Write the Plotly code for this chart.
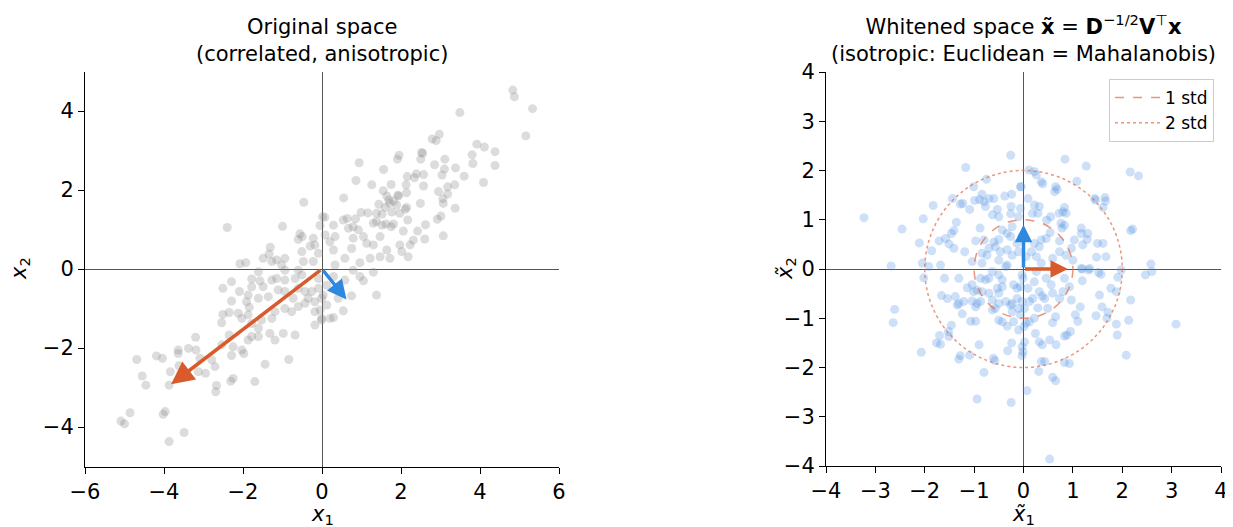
import plotly.graph_objects as go

# ---------------- data ----------------
orig_x = [4.83, 4.87, 5.33, 5.16, 3.49, 2.97, 2.89, 2.79, 3.92, 4.11, 4.38, 3.80, 3.82, 4.38, 4.09, 3.60, 3.38, 3.36, 3.37,
          3.11, 3.10, 2.85, 3.04, 3.18, 2.95, 3.18, 3.07, 3.06, 3.01, 2.92, 3.07, 2.62, 2.42, 2.60, 2.49, 2.57, 2.57, 2.39,
          2.34, 2.16, 2.13, 2.14, 2.52, 2.55, 2.50, 1.95, 1.91, 0.94, 1.56, 0.86, 1.26, 1.75, 1.55, 0.55, 1.64, 1.92, 1.69,
          1.81, 1.94, 2.14, 2.11, 2.17, 1.44, 1.60, 1.71, 1.77, 1.89, 1.97, 1.52, 1.38, 1.16, 0.99, 0.85, 0.64, 0.54, 0.29,
          0.07, 1.30, 1.38, 1.52, 1.62, 1.75, 1.81, 2.06, 0.67, 0.79, 0.92, 1.05, 0.79, 1.13, 1.30, 1.47, 1.64, 1.97, 2.23,
          2.31, 2.02, 1.72, 1.47, 1.22, 0.96, 0.75, 0.58, 0.33, 0.29, 0.20, 0.08, 0.33, 2.18,
          -0.46, -2.40, -1.00, -0.56, -0.50, -0.60, -0.22, -0.18, -0.30, -0.05, 0.01, -1.31, -1.34, -1.49, -1.27, -1.15,
          -0.94, -0.51, -0.47, -0.22, -0.09, -2.08, -1.93, -1.02,
          -4.69, -4.19, -4.04, -4.55, -4.46, -4.86, -5.09, -5.00, -3.97, -4.02, -3.49, -3.87, -3.87, -3.84, -3.62, -3.64,
          -3.64, -3.38, -3.20, -3.19, -3.09, -3.13, -2.95, -2.79, -2.71, -2.67, -2.69, -2.31, -2.25, -1.70, -1.44, -0.84,
          -2.29, -2.25, -2.03, -1.98, -2.54, -2.35, -2.54, -2.51, -2.35, -2.12, -2.03, -1.87, -1.84, -1.91, -2.29, -2.51,
          -2.29, -2.09, -1.78, -1.57, -1.49, -1.27, -1.15, -0.94, -0.68, -0.51, -0.60, -0.43, -0.26, -0.09, -0.35, -0.18,
          -0.43, -0.60, -0.77, -0.94, -1.19, -1.27, -1.53, -1.78, -1.61, -1.78, -1.87, -1.61, -1.32, -1.19, -0.98, -0.68,
          -0.18, -0.01, -0.05, -0.18, -0.73, -0.94, -1.11, -1.36, -1.61, -1.87, -1.78, -1.61, -0.94, -0.60, -0.09, -0.01,
          0.75, 1.38, 0.54, 0.29, 0.20, -0.01, 0.12, 0.41, 0.58, 1.05, 1.30, 0.96, 0.79, 0.29, 0.12, 0.03]
orig_y = [4.53, 4.36, 4.06, 3.37, 3.96, 3.41, 3.25, 3.29, 3.16, 3.09, 2.97, 2.89, 2.67, 2.62, 2.19, 2.35, 2.56, 2.13, 1.54,
          2.78, 2.53, 2.64, 2.38, 2.08, 1.96, 1.90, 1.66, 1.78, 1.34, 1.26, 0.84, 1.12, 0.96, 0.76, 1.66, 2.10, 2.39, 2.41,
          2.31, 2.34, 2.13, 1.93, 2.95, 2.93, 2.78, 2.88, 2.78, 2.69, 2.52, 2.24, 2.13, 2.14, 1.98, 1.80, 1.85, 1.87, 1.75,
          1.72, 1.85, 1.56, 1.51, 1.24, 1.64, 1.56, 1.66, 1.44, 1.62, 1.41, 1.39, 1.41, 1.42, 1.43, 1.27, 1.28, 1.24, 1.11,
          1.31, 1.16, 1.20, 1.11, 1.14, 1.07, 1.14, 0.96, 1.03, 1.07, 0.99, 0.82, 0.78, 0.65, 0.61, 0.82, 0.48, 0.61, 0.61,
          0.73, 0.44, 0.27, 0.31, 0.27, 0.16, 0.52, 0.27, 0.10, 0.48, 0.69, 0.86, 0.82, 0.31,
          1.69, 1.05, 1.08, 0.89, 0.82, 0.75, 0.78, 0.61, 0.58, 1.10, 1.32, 0.55, 0.38, 0.27, 0.19, 0.23,
          0.27, 0.44, 0.19, 0.19, 0.40, 0.13, 0.16, 0.10,
          -2.29, -2.20, -2.26, -2.71, -2.94, -3.64, -3.85, -3.92, -3.61, -3.68, -4.14, -4.37, -2.94, -2.60, -2.45, -2.05,
          -2.14, -2.01, -1.73, -2.05, -2.26, -2.60, -2.64, -2.30, -2.47, -2.95, -3.11, -2.84, -2.77, -2.85, -2.41, -2.29,
          -2.19, -1.97, -2.05, -2.14, -1.92, -1.67, -1.36, -1.15, -1.10, -1.12, -1.25, -1.16, -0.97, -0.83, -0.81, -0.49,
          -0.32, -0.57, -0.25, -0.30, -0.45, -0.28, -0.24, -0.28, -0.24, -0.15, -0.49, -0.57, -0.57, -0.49, -0.74, -0.83,
          -0.87, -0.95, -1.08, -1.00, -1.08, -1.25, -1.29, -1.38, -1.50, -1.71, -1.80, -1.71, -1.63, -1.80, -1.63, -1.67,
          -1.42, -1.25, -1.04, -1.08, -0.74, -0.57, -0.53, -0.70, -0.74, -0.66, -0.45, -0.07, -0.03, -0.03, -0.24, -0.74,
          -0.68, -0.66, -1.06, -1.23, -1.25, -1.29, -0.91, -0.74, -0.28, -0.30, -0.08, -0.19, -0.03, -0.19, -0.41, -0.66]

white_x = [-0.26, -1.17, -0.75, -1.01, -0.06, -0.84, -0.89, -0.70, -0.60, -0.80, -0.38, -0.24, -1.44, -1.28, -1.23, -0.99,
           -1.83, -1.09, -0.77, -0.53, -0.25, -0.06, -0.63, -0.50, -0.26, -0.10, -3.23, -2.03, -2.46, -1.36, -1.41, -1.46,
           -0.88, -1.71, -1.58, -1.51, -1.41, -2.11, -1.86, -0.97, -0.80, -0.60, -0.50, -0.43, -0.33, -0.23, -0.26, -1.19,
           -1.04, -0.84, -0.74, -0.70, -0.57, -0.47, -0.33, -0.23, -0.10, -0.13, -0.03, -0.50, -0.33, -0.84, -2.68, -2.05,
           -1.92, -1.68,
           0.84, 1.27, 2.16, 2.33, 0.11, 0.22, 0.26, 0.36, 0.39, 1.08, 0.65, 0.68, 0.63, -0.05, 1.44, 1.46, 1.65, 1.66,
           0.09, 0.22, 0.32, 0.18, 0.29, 0.83, 0.80, 0.72, 0.86, 0.55, 0.47, 1.61, 0.76, 0.83, 0.78, 1.17, 1.17, 1.30,
           1.29, 1.20, 1.03, 0.97, 0.73, 0.54, 0.46, 0.36, 0.32, 0.22, 0.16, 0.05, 0.26, 0.36, 0.59, 0.73, 0.86, 1.00,
           1.17, 1.34, 1.50, 1.61, 1.48, 1.67, 2.17, 2.21, 2.58,
           -2.02, -1.60, -1.31, -1.04, -1.01, -0.87, -0.77, -0.70, -0.63, -0.50, -0.43, -0.36, -1.14, -0.94, -0.84, -0.70,
           -0.53, -0.50, -0.43, -0.20, -0.13, -0.06, -0.03, -1.66, -1.54, -1.38, -1.31, -1.21, -1.04, -0.94, -0.87, -0.63,
           -0.50, -0.36, -0.23, -0.13, -0.03, -1.34, -0.97, -0.63, -0.57, -0.26, -0.23, -0.06, -0.10, -2.61, -2.64, -1.24,
           -1.07, -0.97, -0.50, -0.43, -0.33, -0.20, -0.10, 0.01, -1.46, -1.52, -1.70, -1.51, -1.76, -1.68, -2.07, -0.90,
           -0.24, -0.32, -0.03, -0.03, -1.28, -1.31, -1.09, -0.61, -0.58, -0.80, -0.94, -0.25,
           1.19, 1.32, 1.52, 1.57, 1.98, 1.91, 2.47, 2.60, 1.19, 1.77, 1.88, 1.54, 2.17, 3.09, 2.13, 1.88, 1.90, 1.59,
           1.71, 1.69, 1.47, 2.08, 1.15, 1.05, 1.10, 0.95, 0.88, 0.83, 0.59, 0.65, 0.49, 0.43, 0.38, 0.29, 0.22, 0.12,
           0.05, 0.19, 0.09, 0.12, 0.02, 0.24, 0.32, 0.38, 0.53, 0.66, 0.02, -0.01, 0.36, 0.43, 0.31, 0.83, 0.93, 0.59,
           0.65, 0.07, 0.53, 0.93, 0.80, 0.73, 0.97, 0.59, 0.32, 0.56, 0.46, 0.22, 0.83, 0.26, -0.01]
white_y = [2.31, 2.06, 1.82, 1.67, 1.67, 1.52, 1.41, 1.43, 1.43, 1.37, 1.48, 1.52, 1.43, 1.32, 1.33, 1.39,
           1.29, 1.21, 1.27, 1.21, 1.27, 1.23, 1.10, 1.06, 1.12, 1.06, 1.04, 1.02, 0.81, 0.95, 0.78, 0.72,
           0.83, 0.57, 0.62, 0.51, 0.42, 0.53, 0.37, 0.57, 0.59, 0.55, 0.60, 0.79, 0.72, 0.86, 0.66, 0.35,
           0.15, 0.32, 0.28, 0.42, 0.45, 0.35, 0.39, 0.28, 0.35, 0.52, 0.66, 0.18, 0.08, 0.12, 0.06, 0.12,
           0.05, 0.08,
           2.23, 2.09, 1.97, 1.89, 2.01, 1.98, 1.91, 1.77, 1.73, 1.78, 1.67, 1.62, 1.57, 1.67, 1.43, 1.40, 1.45, 1.38,
           1.43, 1.30, 1.27, 1.13, 1.13, 1.25, 1.16, 1.13, 1.13, 1.06, 0.99, 1.25, 0.93, 0.89, 0.83, 0.83, 0.72, 0.72,
           0.60, 0.49, 0.59, 0.42, 0.57, 0.74, 0.62, 0.59, 0.45, 0.52, 0.35, 0.25, 0.25, 0.12, 0.22, 0.35, 0.28, 0.18,
           0.01, 0.01, 0.52, 0.52, 0.24, 0.25, 0.78, 0.81, 0.10,
           -0.18, -0.19, -0.19, -0.32, -0.46, -0.19, -0.22, -0.19, -0.05, -0.12, -0.22, 0.05, -0.38, -0.43, -0.46, -0.49,
           -0.39, -0.49, -0.36, -0.32, -0.39, -0.36, -0.12, -0.54, -0.60, -0.56, -0.70, -0.66, -0.65, -0.70, -0.66, -0.63,
           -0.70, -0.66, -0.70, -0.60, -0.66, -0.73, -0.77, -0.83, -0.80, -0.73, -0.87, -0.93, -0.80, -0.82, -1.09, -0.91,
           -1.06, -1.06, -1.04, -1.07, -1.16, -1.07, -1.24, -1.17, -1.14, -1.27, -1.35, -1.37, -1.50, -1.53, -1.69, -1.54,
           -1.50, -1.66, -1.58, -1.76, -1.76, -1.83, -1.75, -1.81, -1.86, -2.10, -2.64, -2.71,
           0.00, -0.02, -0.07, -0.11, -0.02, -0.17, -0.12, -0.05, -0.24, -0.39, -0.46, -0.53, -0.63, -1.12, -1.04, -1.12,
           -1.34, -0.77, -0.88, -1.00, -0.95, -1.75, -0.77, -0.93, -1.06, -1.27, -1.34, -1.36, -1.09, -0.97, -0.80, -0.60,
           -0.55, -0.79, -1.00, -1.07, -1.10, -0.60, -0.39, -0.66, -0.80, -1.31, -1.48, -1.54, -1.44, -1.54, -1.48, -1.68,
           -1.88, -1.88, -2.08, -1.90, -1.92, -2.20, -2.27, -2.47, -3.86, -0.36, -0.46, -0.60, -0.63, -0.49, -0.46, -0.32,
           -0.19, -0.26, -0.19, -0.05, -0.19]

# principal-direction arrows (tips), drawn from the origin
orig_arrow_tips = [(-3.82, -2.92), (0.62, -0.77)]
white_arrow_tips = [(0.9, 0.0), (0.0, 0.9)]
std_radii = [1, 2]
std_labels = ["1 std", "2 std"]

ORANGE = "#D95A2B"
BLUE = "#2F88E0"
SALMON = "rgba(226,115,80,0.75)"
FONT = "DejaVu Sans"

fig = go.Figure()

fig.add_trace(go.Scatter(x=orig_x, y=orig_y, mode="markers", xaxis="x", yaxis="y",
                         marker=dict(size=9, color="rgba(140,140,140,0.3)", line=dict(width=0)),
                         showlegend=False, hoverinfo="skip"))
fig.add_trace(go.Scatter(x=white_x, y=white_y, mode="markers", xaxis="x2", yaxis="y2",
                         marker=dict(size=9, color="rgba(74,144,226,0.28)", line=dict(width=0)),
                         showlegend=False, hoverinfo="skip"))

# std circles as shapes + legend entries
dashes = ["dash", "dot"]
for r, lab, d in zip(std_radii, std_labels, dashes):
    fig.add_shape(type="circle", xref="x2", yref="y2", x0=-r, x1=r, y0=-r, y1=r,
                  line=dict(color=SALMON, width=1.5, dash=d))
    fig.add_trace(go.Scatter(x=[None], y=[None], mode="lines", xaxis="x2", yaxis="y2",
                             line=dict(color=SALMON, width=1.5, dash=d), name=lab))

# arrows
for (tx, ty), col, sz in zip(orig_arrow_tips, [ORANGE, BLUE], [1.3, 1.1]):
    fig.add_annotation(x=tx, y=ty, ax=0, ay=0, xref="x", yref="y", axref="x", ayref="y",
                       showarrow=True, arrowhead=2, arrowsize=sz, arrowwidth=3.5,
                       arrowcolor=col, standoff=0, text="")
for (tx, ty), col in zip(white_arrow_tips, [ORANGE, BLUE]):
    fig.add_annotation(x=tx, y=ty, ax=0, ay=0, xref="x2", yref="y2", axref="x2", ayref="y2",
                       showarrow=True, arrowhead=2, arrowsize=1.0, arrowwidth=3.5,
                       arrowcolor=col, standoff=0, text="")

# the page body has an 8px margin: the figure starts at (8, 8) in the window
OFF = 8
W, H = 1233 - OFF, 527 - OFF
def px(xp):
    return (xp - OFF) / W
def py(yp):
    return 1 - (yp - OFF) / H

axis_common = dict(showgrid=False, showline=True, linecolor="black", linewidth=1,
                   ticks="outside", ticklen=6, tickwidth=1, tickcolor="black",
                   zeroline=True, zerolinecolor="#555555", zerolinewidth=1, automargin=False,
                   tickfont=dict(family=FONT, size=21, color="black"), mirror=False)

fig.update_layout(
    width=W, height=H, margin=dict(l=0, r=0, t=0, b=0, autoexpand=False),
    paper_bgcolor="white", plot_bgcolor="white",
    font=dict(family=FONT, color="black"),
    xaxis=dict(domain=[px(85), px(559)], range=[-6, 6], tickvals=[-6, -4, -2, 0, 2, 4, 6], anchor="y", **axis_common),
    yaxis=dict(domain=[py(466.5), py(71.5)], range=[-5, 5], tickvals=[-4, -2, 0, 2, 4], anchor="x", **axis_common),
    xaxis2=dict(domain=[px(826), px(1221)], range=[-4, 4], tickvals=list(range(-4, 5)), anchor="y2", **axis_common),
    yaxis2=dict(domain=[py(466), py(72)], range=[-4, 4], tickvals=list(range(-4, 5)), anchor="x2", **axis_common),
    legend=dict(x=px(1214), y=py(79), xanchor="right", yanchor="top",
                bgcolor="white", bordercolor="#cccccc", borderwidth=1, itemwidth=45,
                font=dict(family=FONT, size=17, color="black"), tracegroupgap=2),
)

titles = [
    (px(322), "Original space<br>(correlated, anisotropic)"),
    (px(1023.5), "Whitened space <b>x̃</b> = <b>D</b><sup>−1/2</sup><b>V</b><sup>⊤</sup><b>x</b><br>(isotropic: Euclidean = Mahalanobis)"),
]
for x, t in titles:
    fig.add_annotation(x=x, y=py(68), xref="paper", yref="paper", xanchor="center", yanchor="bottom",
                       text=t, showarrow=False, font=dict(family=FONT, size=21, color="black"), align="center")

labels = [
    (px(322), py(515), "<i>x</i><sub>1</sub>", 0),
    (px(20), py(269), "<i>x</i><sub>2</sub>", -90),
    (px(1024), py(515), "<i>x̃</i><sub>1</sub>", 0),
    (px(786), py(269), "<i>x̃</i><sub>2</sub>", -90),
]
for x, y, t, ang in labels:
    fig.add_annotation(x=x, y=y, xref="paper", yref="paper", xanchor="center", yanchor="middle",
                       text=t, showarrow=False, textangle=ang, font=dict(family=FONT, size=21, color="black"))

fig.write_html("out.html")
